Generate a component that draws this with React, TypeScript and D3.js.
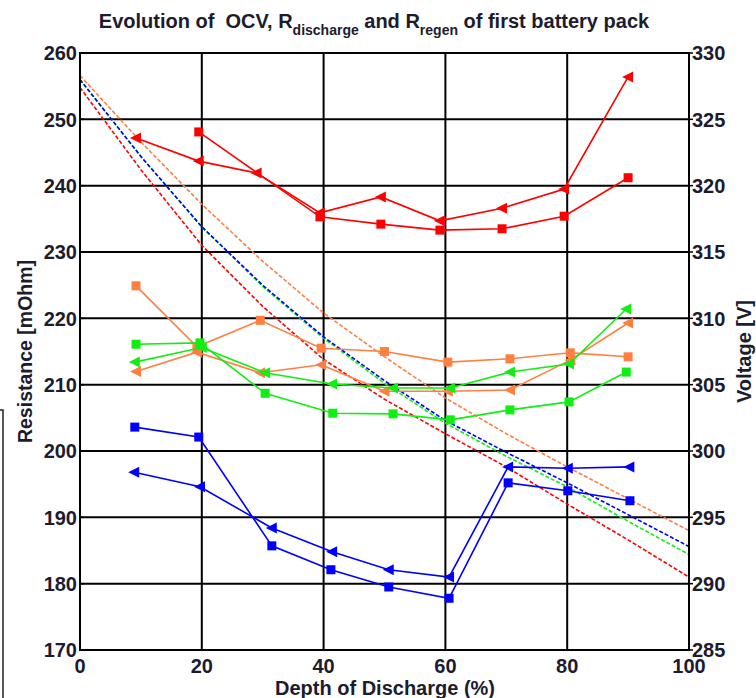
import React from "react";
import * as d3 from "d3";

// depth of discharge (%) for the OCV curves
const dodOcv = [0, 10, 20, 30, 40, 50, 60, 70, 80, 90, 100];
// OCV [V] per pack
const ocvOrange = [328.3, 323.3, 318.6, 314.3, 310.4, 307.1, 304.0, 301.3, 298.8, 296.4, 294.0];
const ocvBlue = [328.0, 322.2, 316.9, 312.5, 308.6, 305.3, 302.3, 299.9, 297.6, 295.2, 292.8];
const ocvGreen = [328.0, 322.2, 316.9, 312.4, 308.5, 305.1, 302.1, 299.6, 297.3, 294.7, 292.2];
const ocvRed = [327.4, 321.2, 315.5, 310.9, 306.9, 303.9, 301.3, 298.8, 296.0, 293.3, 290.5];

// resistance [mOhm] series (squares = R_discharge, triangles = R_regen)
const redSqX = [19.5, 39.4, 49.4, 59.1, 69.3, 79.5, 90];
const redSqY = [248.1, 235.3, 234.2, 233.3, 233.5, 235.4, 241.2];
const redTriX = [9.2, 19.5, 29, 39.4, 49.4, 59.1, 69.3, 79.5, 90];
const redTriY = [247.2, 243.7, 241.9, 235.9, 238.3, 234.7, 236.6, 239.5, 256.4];
const orangeX = [9.2, 19.2, 29.6, 39.6, 50, 60.4, 70.6, 80.5, 90];
const orangeSqY = [224.9, 215.7, 219.7, 215.5, 215.0, 213.4, 213.9, 214.8, 214.2];
const orangeTriY = [212.0, 214.9, 211.8, 213.0, 209.0, 209.0, 209.2, 213.7, 219.3];
const greenSqX = [9.2, 19.7, 30.4, 41.5, 51.4, 60.8, 70.6, 80.3, 89.7];
const greenSqY = [216.1, 216.3, 208.7, 205.7, 205.6, 204.7, 206.2, 207.4, 211.9];
const greenTriX = [9, 20, 30.4, 41.4, 51.4, 60.8, 70.6, 80.3, 89.7];
const greenTriY = [213.4, 215.6, 211.8, 210.1, 209.5, 209.5, 211.9, 213.1, 221.4];
const blueSqX = [9, 19.5, 31.5, 41.2, 50.7, 60.6, 70.3, 80.1, 90.3];
const blueSqY = [203.6, 202.1, 185.7, 182.1, 179.5, 177.8, 195.2, 194.0, 192.5];
const blueTriX = [8.9, 19.7, 31.5, 41.4, 50.7, 60.6, 70.3, 80.1, 90.2];
const blueTriY = [196.8, 194.6, 188.4, 184.8, 182.1, 181.0, 197.6, 197.4, 197.6];

const xTicks = [0, 20, 40, 60, 80, 100];
const leftTicks = [170, 180, 190, 200, 210, 220, 230, 240, 250, 260];
const rightTicks = [285, 290, 295, 300, 305, 310, 315, 320, 325, 330];

const RED = "#ff0000";
const BLUE = "#0000ff";
const GREEN = "#11ee11";
const ORANGE = "#ff7f40";
const TXT = "#1c1c2e";
const FONT = "'Liberation Sans', Arial, sans-serif";

const W = 756;
const H = 698;
const m = { left: 80, right: 689, top: 53, bottom: 650 };

export default function App() {
  const x = d3.scaleLinear().domain([0, 100]).range([m.left, m.right]);
  const yR = d3.scaleLinear().domain([170, 260]).range([m.bottom, m.top]);
  const yV = d3.scaleLinear().domain([285, 330]).range([m.bottom, m.top]);

  const line = (xs: number[], ys: number[], y: d3.ScaleLinear<number, number>) =>
    d3.line<number>().x((_, i) => x(xs[i])).y((d) => y(d))(ys) || "";

  const ocv = [
    { c: RED, v: ocvRed },
    { c: GREEN, v: ocvGreen },
    { c: BLUE, v: ocvBlue },
    { c: ORANGE, v: ocvOrange },
  ];

  const res = [
    { c: ORANGE, xs: orangeX, ys: orangeSqY, mk: "sq" },
    { c: ORANGE, xs: orangeX, ys: orangeTriY, mk: "tri" },
    { c: GREEN, xs: greenSqX, ys: greenSqY, mk: "sq" },
    { c: GREEN, xs: greenTriX, ys: greenTriY, mk: "tri" },
    { c: BLUE, xs: blueSqX, ys: blueSqY, mk: "sq" },
    { c: BLUE, xs: blueTriX, ys: blueTriY, mk: "tri" },
    { c: RED, xs: redSqX, ys: redSqY, mk: "sq" },
    { c: RED, xs: redTriX, ys: redTriY, mk: "tri" },
  ];

  return (
    <svg width={W} height={H} style={{ position: "absolute", left: 0, top: 0 }} fontFamily={FONT}>
      <rect width={W} height={H} fill="#fff" />

      {/* stray frame piece at the left edge */}
      <path d="M0,410 H3 V698" fill="none" stroke="#222" strokeWidth={1.5} />

      {/* title */}
      <text x={374} y={28} textAnchor="middle" fontSize={20} fontWeight="bold" fill={TXT}>
        Evolution of{"\u00a0\u00a0"}OCV, R
        <tspan fontSize={14} dy={7}>discharge</tspan>
        <tspan dy={-7}> and R</tspan>
        <tspan fontSize={14} dy={7}>regen</tspan>
        <tspan dy={-7}> of first battery pack</tspan>
      </text>

      {/* grid */}
      <g stroke="#000" strokeWidth={2}>
        {xTicks.slice(1, -1).map((t) => (
          <line key={"gx" + t} x1={x(t)} x2={x(t)} y1={m.top} y2={m.bottom} />
        ))}
        {leftTicks.slice(1, -1).map((t) => (
          <line key={"gy" + t} x1={m.left} x2={m.right} y1={yR(t)} y2={yR(t)} />
        ))}
      </g>

      {/* OCV curves */}
      <g fill="none" strokeWidth={1.6} strokeDasharray="4,2">
        {ocv.map((s, i) => (
          <path key={"o" + i} d={line(dodOcv, s.v, yV)} stroke={s.c} />
        ))}
      </g>

      {/* resistance series */}
      {res.map((s, i) => (
        <g key={"r" + i}>
          <path d={line(s.xs, s.ys, yR)} fill="none" stroke={s.c} strokeWidth={1.6} />
          {s.ys.map((v, j) =>
            s.mk === "sq" ? (
              <rect key={j} x={x(s.xs[j]) - 4.5} y={yR(v) - 4.5} width={9} height={9} fill={s.c} />
            ) : (
              <path
                key={j}
                transform={`translate(${x(s.xs[j])},${yR(v)})`}
                d="M-6,0 L5,-5.5 L5,5.5 Z"
                fill={s.c}
              />
            )
          )}
        </g>
      ))}

      {/* frame */}
      <rect
        x={m.left}
        y={m.top}
        width={m.right - m.left}
        height={m.bottom - m.top}
        fill="none"
        stroke="#000"
        strokeWidth={2}
      />

      {/* axis ticks */}
      <g stroke="#000" strokeWidth={1.5}>
        {leftTicks.map((t) => (
          <line key={"lt" + t} x1={m.left} x2={m.left + 4} y1={yR(t)} y2={yR(t)} />
        ))}
        {rightTicks.map((t) => (
          <line key={"rt" + t} x1={m.right} x2={m.right + 4} y1={yV(t)} y2={yV(t)} />
        ))}
      </g>

      {/* tick labels */}
      <g fontSize={20} fontWeight="bold" fill={TXT}>
        {leftTicks.map((t) => (
          <text key={"ll" + t} x={m.left - 3} y={yR(t)} dy="0.36em" textAnchor="end">
            {t}
          </text>
        ))}
        {rightTicks.map((t) => (
          <text key={"rl" + t} x={m.right + 3} y={yV(t)} dy="0.36em" textAnchor="start">
            {t}
          </text>
        ))}
        {xTicks.map((t) => (
          <text key={"xl" + t} x={x(t)} y={673} textAnchor="middle">
            {t}
          </text>
        ))}
      </g>

      {/* axis titles */}
      <text x={385} y={695} textAnchor="middle" fontSize={20} fontWeight="bold" fill={TXT}>
        Depth of Discharge (%)
      </text>
      <text
        transform={`translate(32,${(m.top + m.bottom) / 2}) rotate(-90)`}
        textAnchor="middle"
        fontSize={19.5}
        fontWeight="bold"
        fill={TXT}
      >
        Resistance [mOhm]
      </text>
      <text
        transform={`translate(751,${(m.top + m.bottom) / 2}) rotate(-90)`}
        textAnchor="middle"
        fontSize={20}
        fontWeight="bold"
        fill={TXT}
      >
        Voltage [V]
      </text>
    </svg>
  );
}
